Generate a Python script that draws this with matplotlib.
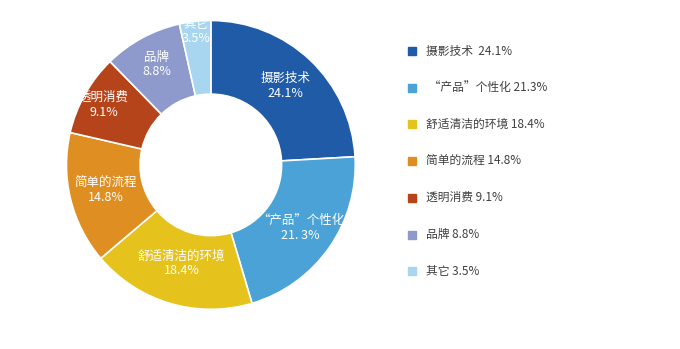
import numpy as np
import matplotlib
matplotlib.use('Agg')
import matplotlib.pyplot as plt
from matplotlib.patches import Rectangle

plt.rcParams['font.family'] = ['Noto Sans CJK SC', 'DejaVu Sans']

# Data
categories = ['摄影技术', '“产品”个性化', '舒适清洁的环境', '简单的流程', '透明消费', '品牌', '其它']
values = [24.1, 21.3, 18.4, 14.8, 9.1, 8.8, 3.5]
inner_pct = ['24.1%', '21. 3%', '18.4%', '14.8%', '9.1%', '8.8%', '3.5%']
legend_labels = ['摄影技术  24.1%', ' “产品”个性化 21.3%', '舒适清洁的环境 18.4%',
                 '简单的流程 14.8%', '透明消费 9.1%', '品牌 8.8%', '其它 3.5%']
colors = ['#1f5ba6', '#4aa2d6', '#e6c21c', '#df8e22', '#b5441a', '#8d9acb', '#a8d5ef']
label_r = [0.75, 0.76, 0.71, 0.75, 0.85, 0.79, 0.93]

fig = plt.figure(figsize=(6.8, 3.49), dpi=100)
ax = fig.add_axes([0.0956, 0.109, 0.429, 0.837])

wedges, _ = ax.pie(values, colors=colors, startangle=90, counterclock=False,
                   radius=1.0, wedgeprops=dict(width=0.51, edgecolor='white', linewidth=1.2))

# Labels inside wedges
for w, cat, pct, r in zip(wedges, categories, inner_pct, label_r):
    ang = np.deg2rad((w.theta1 + w.theta2) / 2)
    x, y = r * np.cos(ang), r * np.sin(ang)
    ax.text(x, y, cat + '\n' + pct, ha='center', va='center', color='white',
            fontsize=9, linespacing=1.15)
ax.set_xlim(-1.01, 1.01)
ax.set_ylim(-1.01, 1.01)
ax.set_aspect('equal')

# Legend on the right
lax = fig.add_axes([0, 0, 1, 1])
lax.set_xlim(0, 680)
lax.set_ylim(349, 0)
lax.axis('off')
for i, (lab, c) in enumerate(zip(legend_labels, colors)):
    y = 51 + i * 36.7
    lax.add_patch(Rectangle((408, y - 4), 8, 8, color=c))
    lax.text(426, y, lab, va='center', ha='left', fontsize=8.5, color='#404040')

plt.savefig('out.png', dpi=100)
